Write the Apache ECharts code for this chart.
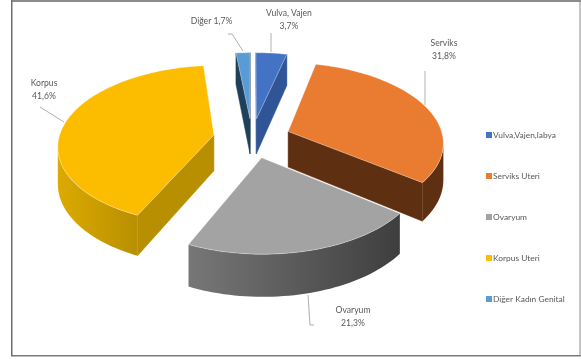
<!DOCTYPE html>
<html>
<head>
<meta charset="utf-8">
<style>html,body{margin:0;padding:0;background:#fff}#chart{width:581px;height:359px}</style>
<script src="https://cdn.jsdelivr.net/npm/echarts@6/dist/echarts.min.js"></script>
</head>
<body>
<div id="chart"></div>
<script>
// Kadın genital kanser dağılımı, yüzde
const legendNames = ['Vulva,Vajen,labya', 'Serviks Uteri', 'Ovaryum', 'Korpus Uteri', 'Diğer Kadın Genital'];
const sliceNames = ['Vulva, Vajen', 'Serviks', 'Ovaryum', 'Korpus', 'Diğer'];
const values = [3.7, 31.8, 21.3, 41.6, 1.7];

const topColors = ['#4472c4', '#ea7c32', '#a3a3a3', '#fcbd00', '#5b9bd5'];
const cutColors = ['#2f5597', '#5e2f10', '#5a5a5a', '#b88f00', '#1f3f5a'];
const wallColors = [['#2f5597', '#2f5597'], ['#5e2f10', '#5e2f10'], ['#777777', '#3e3e3e'], ['#dcaa00', '#b88f00'], ['#1f3f5a', '#1f3f5a']];

// Projection of the tilted pie plane on the page
const cx = 252, cy = 138, scaleX = 155, scaleY = 79, persp = 0.125, depth = 36, explode = 0.25;
const project = (X, Y) => [cx + scaleX * X / (1 + persp * Y), cy - scaleY * Y / (1 + persp * Y)];

// Label anchors and leader lines, drawn per slice
const labelLayout = [
  { at: [289, 20], lines: [[271, 33], [271, 52]] },
  { at: [444, 50], lines: [[425, 71], [425, 105]] },
  { at: [353, 317], lines: [[308, 295], [310, 325], [314, 325]] },
  { at: [44, 90], lines: [[40, 107], [64, 122]] },
  { at: [211.5, 21], lines: [[228, 34], [232, 34], [243, 51]] }
];
const drawOrder = [0, 4, 1, 3, 2];

const total = values.reduce((a, b) => a + b, 0);
const comma = v => String(v).replace('.', ',') + '%';

function sliceGeometry(i) {
  const before = values.slice(0, i).reduce((a, b) => a + b, 0);
  const t0 = before / total * 2 * Math.PI;
  const t1 = (before + values[i]) / total * 2 * Math.PI;
  const mid = (t0 + t1) / 2;
  const ox = explode * Math.sin(mid), oy = explode * Math.cos(mid);
  const rim = [];
  const n = Math.max(6, Math.ceil((t1 - t0) / 0.03));
  for (let k = 0; k <= n; k++) {
    const t = t0 + (t1 - t0) * k / n;
    rim.push([ox + Math.sin(t), oy + Math.cos(t)]);
  }
  return { apex: [ox, oy], rim };
}

const drop = (X, Y) => {
  const p = project(X, Y);
  return [p[0], p[1] + depth / (1 + persp * Y)];
};

function renderSlice(i) {
  const g = sliceGeometry(i);
  const children = [];
  const quad = (a, b, fill) => children.push({
    type: 'polygon',
    shape: { points: [project(a[0], a[1]), project(b[0], b[1]), drop(b[0], b[1]), drop(a[0], a[1])] },
    style: { fill, stroke: fill, lineWidth: 0.5 }
  });
  const faces = (a, b) => project(b[0], b[1])[0] < project(a[0], a[1])[0] - 0.01;

  // Straight cut faces
  if (faces(g.apex, g.rim[0])) quad(g.apex, g.rim[0], cutColors[i]);
  const last = g.rim[g.rim.length - 1];
  if (faces(last, g.apex)) quad(last, g.apex, cutColors[i]);

  // Curved outer wall: only the stretch turned towards the viewer
  const visible = [];
  for (let k = 0; k < g.rim.length - 1; k++) {
    if (faces(g.rim[k], g.rim[k + 1])) {
      if (!visible.length) visible.push(g.rim[k]);
      visible.push(g.rim[k + 1]);
    }
  }
  if (visible.length) {
    children.push({
      type: 'polygon',
      shape: { points: visible.map(p => project(p[0], p[1])).concat(visible.slice().reverse().map(p => drop(p[0], p[1]))) },
      style: {
        fill: new echarts.graphic.LinearGradient(0, 0, 1, 0, [
          { offset: 0, color: wallColors[i][0] },
          { offset: 1, color: wallColors[i][1] }
        ])
      }
    });
  }

  // Top face
  children.push({
    type: 'polygon',
    shape: { points: [project(g.apex[0], g.apex[1])].concat(g.rim.map(p => project(p[0], p[1]))) },
    style: { fill: topColors[i], stroke: 'rgba(255,255,255,0.4)', lineWidth: 0.8 }
  });

  // Leader line and label
  children.push({
    type: 'polyline',
    shape: { points: labelLayout[i].lines },
    style: { fill: 'none', stroke: '#b0b0b0', lineWidth: 1 }
  });
  const oneLine = sliceNames[i] === 'Diğer';
  children.push({
    type: 'text',
    x: labelLayout[i].at[0],
    y: labelLayout[i].at[1],
    style: {
      text: sliceNames[i] + (oneLine ? ' ' : '\n') + comma(values[i]),
      font: '8.6px Lato, "Open Sans", sans-serif',
      fill: '#595959',
      align: 'center',
      verticalAlign: 'middle',
      lineHeight: 13
    }
  });
  return { type: 'group', children };
}

const chart = echarts.init(document.getElementById('chart'), null, { renderer: 'canvas' });
chart.setOption({
  animation: false,
  backgroundColor: '#ffffff',
  legend: {
    orient: 'vertical',
    left: 486,
    top: 128,
    padding: 0,
    icon: 'rect',
    itemWidth: 2,
    itemHeight: 2,
    itemGap: 27,
    selectedMode: false,
    // Small rect plus a thick stroke keeps the text close to the swatch
    data: legendNames.map((name, i) => ({
      name,
      itemStyle: { color: topColors[i], borderColor: topColors[i], borderWidth: 4 }
    })),
    textStyle: { color: '#595959', fontSize: 8.4, fontFamily: 'Lato, "Open Sans", sans-serif', padding: [0, 0, 0, -2], height: 14, lineHeight: 14 }
  },
  graphic: [
    { type: 'rect', z: 0, shape: { x: 11, y: 0, width: 570, height: 2 }, style: { fill: '#8c8c8c' } },
    { type: 'rect', z: 0, shape: { x: 11, y: 355, width: 570, height: 1.5 }, style: { fill: '#7a7a7a' } },
    { type: 'rect', z: 0, shape: { x: 11, y: 0, width: 1.5, height: 356 }, style: { fill: '#6e6e6e' } },
    { type: 'rect', z: 0, shape: { x: 579.5, y: 0, width: 1, height: 356 }, style: { fill: '#8c8c8c' } }
  ],
  series: drawOrder.map((i, order) => ({
    type: 'custom',
    name: legendNames[i],
    coordinateSystem: 'none',
    z: 2 + order,
    silent: true,
    itemStyle: { color: topColors[i] },
    data: [values[i]],
    renderItem: () => renderSlice(i)
  }))
});
</script>
</body>
</html>
